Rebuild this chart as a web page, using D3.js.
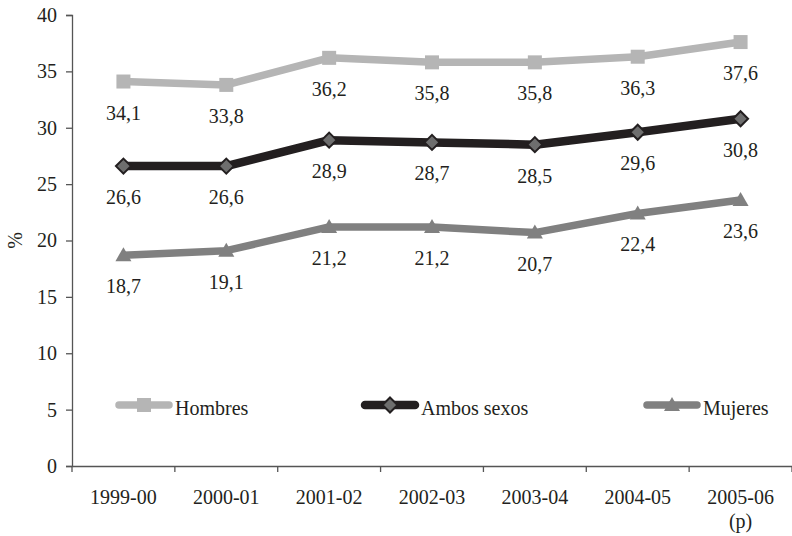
<!DOCTYPE html>
<html>
<head>
<meta charset="utf-8">
<script src="https://cdn.jsdelivr.net/npm/d3@7"></script>
<style>
  body { margin: 0; background: #fff; }
  svg text { font-family: "Liberation Serif", "Times New Roman", serif; fill: #231f20; }
</style>
</head>
<body>
<div id="chart"></div>
<script>
// Data
var years = ['1999-00', '2000-01', '2001-02', '2002-03', '2003-04', '2004-05', '2005-06'];
var hombres = [34.1, 33.8, 36.2, 35.8, 35.8, 36.3, 37.6];
var ambos = [26.6, 26.6, 28.9, 28.7, 28.5, 29.6, 30.8];
var mujeres = [18.7, 19.1, 21.2, 21.2, 20.7, 22.4, 23.6];
var yTicks = [0, 5, 10, 15, 20, 25, 30, 35, 40];

var width = 792, height = 536;
var margin = {top: 15, right: 0, bottom: 70, left: 72};

var svg = d3.select('#chart')
  .append('svg')
  .attr('width', width)
  .attr('height', height);

// Scales
var xBand = d3.scaleBand()
  .domain(years)
  .range([margin.left, width - margin.right]);

var x = d => xBand(d) + xBand.bandwidth() / 2;

var yScale = d3.scaleLinear()
  .domain([0, 40])
  .range([height - margin.bottom - 0, margin.top]);

var axisColor = '#555';

// Y axis
var yAxis = d3.axisLeft(yScale).tickValues(yTicks).tickSize(6).tickPadding(9);
svg.append('g')
  .attr('transform', `translate(${margin.left}, 0)`)
  .call(yAxis)
  .call(g => g.select('.domain').attr('stroke', axisColor).attr('stroke-width', 1.3))
  .call(g => g.selectAll('.tick line').attr('stroke', axisColor).attr('stroke-width', 1.3))
  .call(g => g.selectAll('.tick text').attr('font-size', 20).style('font-family', '"Liberation Serif", serif'));

// X axis - labels only, ticks drawn at band edges
var xAxisY = yScale(0);
var xAxis = d3.axisBottom(xBand).tickSize(0).tickPadding(24);
svg.append('g')
  .attr('transform', `translate(0, ${xAxisY})`)
  .call(xAxis)
  .call(g => g.select('.domain').attr('stroke', axisColor).attr('stroke-width', 1.3))
  .call(g => g.selectAll('.tick text').attr('font-size', 20).style('font-family', '"Liberation Serif", serif'));

var edges = years.map(d => xBand(d)).concat([xBand.range()[1]]);
svg.append('g')
  .selectAll('line')
  .data(edges)
  .enter()
  .append('line')
  .attr('x1', d => d).attr('x2', d => d)
  .attr('y1', xAxisY).attr('y2', xAxisY + 6)
  .attr('stroke', axisColor)
  .attr('stroke-width', 1.3);

// "(p)" under last category
svg.append('text')
  .attr('x', x(years[years.length - 1]))
  .attr('y', xAxisY + 62)
  .attr('text-anchor', 'middle')
  .attr('font-size', 20)
  .text('(p)');

// Y label
svg.append('text')
  .attr('transform', `translate(22, ${yScale(20)}) rotate(-90)`)
  .attr('text-anchor', 'middle')
  .attr('font-size', 20)
  .text('%');

// Series
var series = [
  {name: 'Hombres', values: hombres, color: '#b5b5b5', width: 7.5, marker: 'square', fill: '#b5b5b5', stroke: 'none', legendX: 115},
  {name: 'Ambos sexos', values: ambos, color: '#231f20', width: 8.5, marker: 'diamond', fill: '#6e6e6e', stroke: '#231f20', legendX: 361},
  {name: 'Mujeres', values: mujeres, color: '#808080', width: 7.5, marker: 'triangle', fill: '#808080', stroke: 'none', legendX: 643}
];

var line = d3.line()
  .x(d => x(d[0]))
  .y(d => yScale(d[1]));

function drawMarker(g, s, cx, cy) {
  if (s.marker == 'square') {
    g.append('rect')
      .attr('x', cx - 7).attr('y', cy - 7)
      .attr('width', 14).attr('height', 14)
      .attr('fill', s.fill);
  } else if (s.marker == 'diamond') {
    g.append('path')
      .attr('d', `M${cx},${cy - 7.5}L${cx + 7.5},${cy}L${cx},${cy + 7.5}L${cx - 7.5},${cy}Z`)
      .attr('fill', s.fill)
      .attr('stroke', s.stroke)
      .attr('stroke-width', 2);
  } else {
    g.append('path')
      .attr('d', `M${cx},${cy - 8}L${cx + 8},${cy + 6}L${cx - 8},${cy + 6}Z`)
      .attr('fill', s.fill);
  }
}

series.forEach(function (s) {
  var pts = years.map((yr, i) => [yr, s.values[i]]);
  var g = svg.append('g');

  g.append('path')
    .datum(pts)
    .attr('fill', 'none')
    .attr('stroke', s.color)
    .attr('stroke-width', s.width)
    .attr('stroke-linejoin', 'round')
    .attr('d', line);

  pts.forEach(p => drawMarker(g, s, x(p[0]), yScale(p[1])));

  // Data labels
  g.selectAll('text')
    .data(pts)
    .enter()
    .append('text')
    .attr('x', d => x(d[0]))
    .attr('y', d => yScale(d[1]) + 38)
    .attr('text-anchor', 'middle')
    .attr('font-size', 20)
    .text(d => d[1].toFixed(1).replace('.', ','));

  // Legend
  var ly = 405;
  var lg = svg.append('g');
  lg.append('line')
    .attr('x1', s.legendX + 4).attr('x2', s.legendX + 54)
    .attr('y1', ly).attr('y2', ly)
    .attr('stroke', s.color)
    .attr('stroke-width', s.width)
    .attr('stroke-linecap', 'round');
  drawMarker(lg, s, s.legendX + 29, ly);
  lg.append('text')
    .attr('x', s.legendX + 60)
    .attr('y', ly + 10)
    .attr('font-size', 20)
    .text(s.name);
});
</script>
</body>
</html>
